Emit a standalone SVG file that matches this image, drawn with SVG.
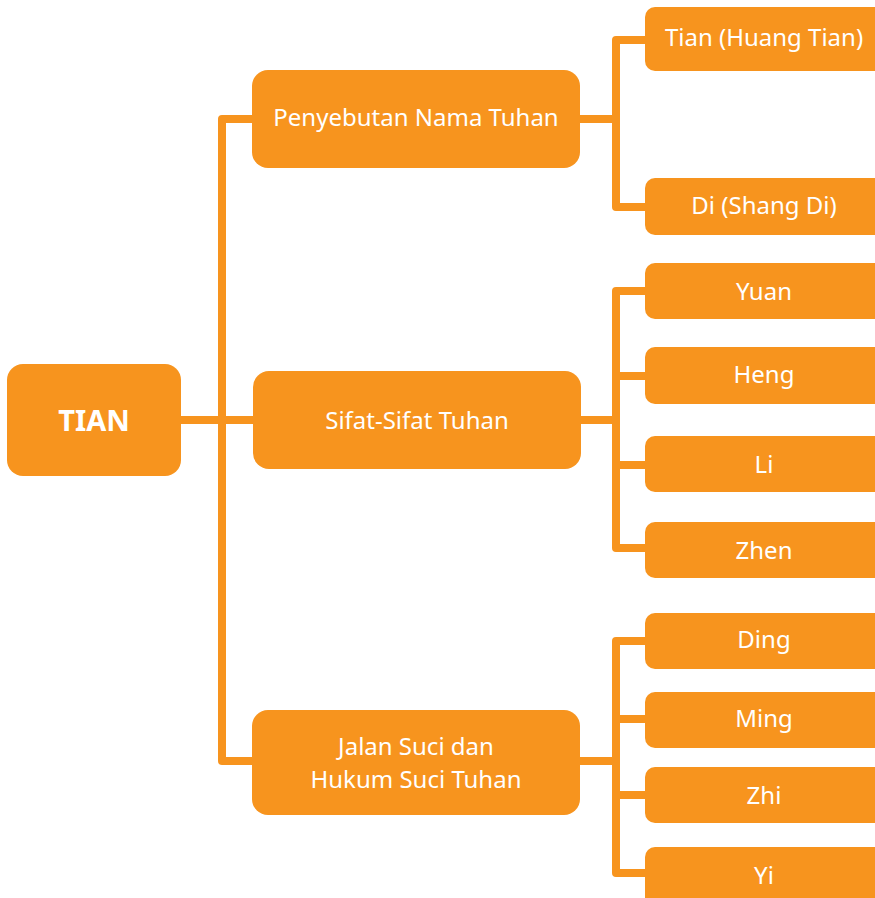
<svg xmlns="http://www.w3.org/2000/svg" width="875" height="898" viewBox="0 0 875 898">
<style>
.box{fill:#F7941E}
.t{fill:#fff;font-family:"Noto Sans","Open Sans",sans-serif;font-size:24px;text-anchor:middle}
.tb{fill:#fff;font-family:"Noto Sans","Open Sans",sans-serif;font-size:29px;font-weight:bold;text-anchor:middle}
.c{fill:none;stroke:#F7941E;stroke-width:8;stroke-linejoin:round}
</style>
<rect width="875" height="898" fill="#fff"/>
<g id="connectors">
<path class="c" d="M181,420 H253"/>
<path class="c" d="M252,119 H222 V761 H252"/>
<path class="c" d="M580,119 H616"/>
<path class="c" d="M645,40 H616 V207 H645"/>
<path class="c" d="M581,420 H616"/>
<path class="c" d="M645,291 H616 V548 H645"/>
<path class="c" d="M616,376 H645 M616,465 H645"/>
<path class="c" d="M580,761 H616"/>
<path class="c" d="M645,641 H616 V873 H645"/>
<path class="c" d="M616,719 H645 M616,795 H645"/>
</g>
<g id="tian"><rect class="box" x="7" y="364" width="174" height="112" rx="16"/><text class="tb" x="94" y="431">TIAN</text></g>
<g id="penyebutan"><rect class="box" x="252" y="70" width="328" height="98" rx="16"/><text class="t" x="416" y="126">Penyebutan Nama Tuhan</text></g>
<g id="sifat"><rect class="box" x="253" y="371" width="328" height="98" rx="16"/><text class="t" x="417" y="429">Sifat-Sifat Tuhan</text></g>
<g id="jalan"><rect class="box" x="252" y="710" width="328" height="105" rx="16"/><text class="t" x="416" y="755">Jalan Suci dan</text><text class="t" x="416" y="788">Hukum Suci Tuhan</text></g>
<g id="tian-huang"><rect class="box" x="645" y="7" width="240" height="64" rx="10"/><text class="t" x="764" y="46">Tian (Huang Tian)</text></g>
<g id="di"><rect class="box" x="645" y="178" width="240" height="57" rx="10"/><text class="t" x="764" y="214">Di (Shang Di)</text></g>
<g id="yuan"><rect class="box" x="645" y="263" width="240" height="56" rx="10"/><text class="t" x="764" y="300">Yuan</text></g>
<g id="heng"><rect class="box" x="645" y="347" width="240" height="57" rx="10"/><text class="t" x="764" y="383">Heng</text></g>
<g id="li"><rect class="box" x="645" y="436" width="240" height="56" rx="10"/><text class="t" x="764" y="473">Li</text></g>
<g id="zhen"><rect class="box" x="645" y="522" width="240" height="56" rx="10"/><text class="t" x="764" y="559">Zhen</text></g>
<g id="ding"><rect class="box" x="645" y="613" width="240" height="56" rx="10"/><text class="t" x="764" y="648">Ding</text></g>
<g id="ming"><rect class="box" x="645" y="692" width="240" height="56" rx="10"/><text class="t" x="764" y="727">Ming</text></g>
<g id="zhi"><rect class="box" x="645" y="767" width="240" height="56" rx="10"/><text class="t" x="764" y="804">Zhi</text></g>
<g id="yi"><rect class="box" x="645" y="847" width="240" height="60" rx="10"/><text class="t" x="764" y="884">Yi</text></g>
</svg>
